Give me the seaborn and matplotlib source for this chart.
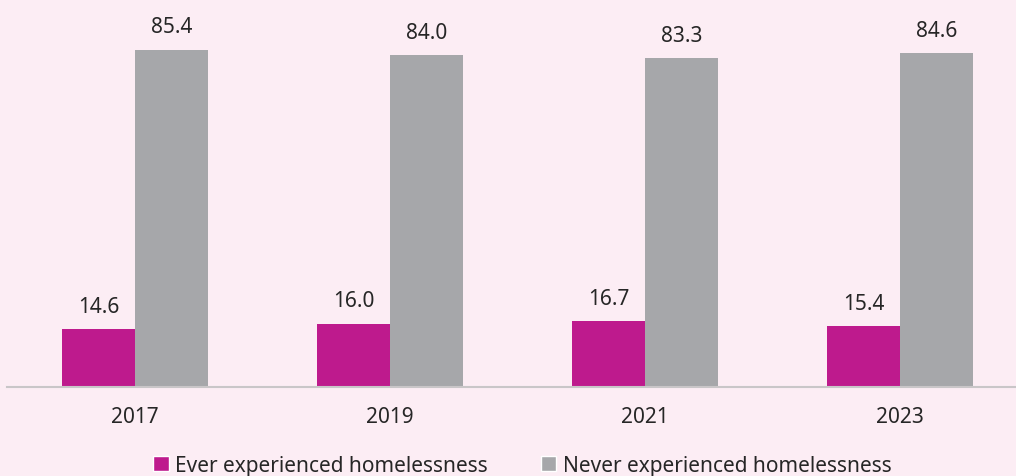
import matplotlib
matplotlib.use("Agg")
import matplotlib.pyplot as plt
from matplotlib.patches import Patch
import seaborn as sns
import pandas as pd

years = ["2017", "2019", "2021", "2023"]
ever = [14.6, 16.0, 16.7, 15.4]
never = [85.4, 84.0, 83.3, 84.6]
series_names = ["Ever experienced homelessness", "Never experienced homelessness"]

BG = "#FCEDF4"
MAGENTA = "#BE1A8D"
GREY = "#A6A7AA"
TEXT = "#262626"

df = pd.DataFrame({
    "year": years * 2,
    "value": ever + never,
    "group": [series_names[0]] * len(years) + [series_names[1]] * len(years),
})

sns.set_theme(style="white")
plt.rcParams["font.family"] = ["Noto Sans", "DejaVu Sans"]

fig = plt.figure(figsize=(10.16, 4.77), dpi=100, facecolor=BG)
# axes spans from the baseline up to the top edge of the figure
ax = fig.add_axes([7 / 1016, 89 / 477, 1009 / 1016, 388 / 477])
ax.set_facecolor(BG)

sns.barplot(data=df, x="year", y="value", hue="group", order=years,
            hue_order=series_names, palette=[MAGENTA, GREY],
            width=0.573, saturation=1, legend=False, linewidth=0, ax=ax)

for cont in ax.containers:
    ax.bar_label(cont, fmt="%.1f", padding=9, fontsize=15, color=TEXT)

ax.set_xlim(-0.502, 3.455)
ax.set_ylim(0, 98.3)
ax.set_xlabel("")
ax.set_ylabel("")
ax.set_yticks([])
for side in ["left", "right", "top"]:
    ax.spines[side].set_visible(False)
ax.spines["bottom"].set_color("#C9C6C8")
ax.spines["bottom"].set_linewidth(1.5)
ax.tick_params(axis="x", length=0, pad=14, labelsize=15, labelcolor=TEXT)

handles = [Patch(facecolor=MAGENTA), Patch(facecolor=GREY)]
fig.legend(handles, series_names, loc="upper center", bbox_to_anchor=(0.514, 0.075),
           ncol=2, frameon=False, fontsize=15, handlelength=0.75, handleheight=0.75,
           handletextpad=0.3, columnspacing=2.55, labelcolor=TEXT,
           borderpad=0.2)

fig.savefig("out.png", dpi=100, facecolor=BG)
